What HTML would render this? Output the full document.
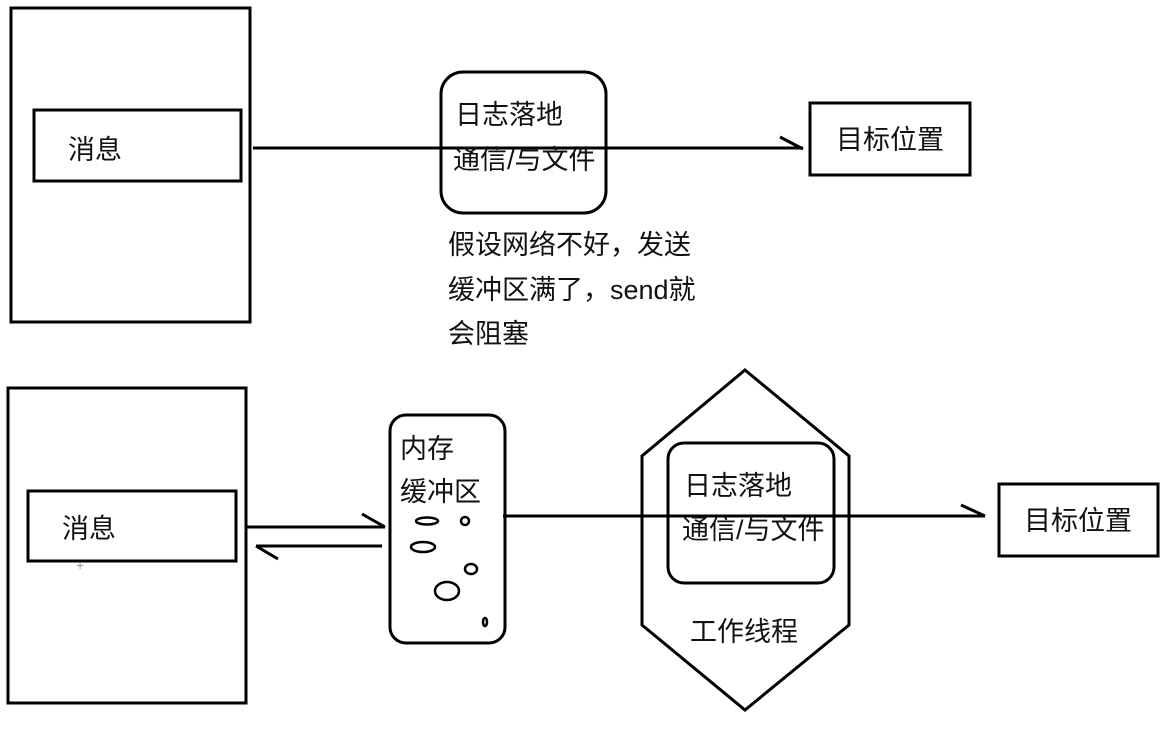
<!DOCTYPE html>
<html><head><meta charset="utf-8"><style>
html,body{margin:0;padding:0;background:#fff;}
svg{display:block}
text{font-family:"Liberation Sans","Noto Sans CJK SC",sans-serif;fill:#111;}
</style></head><body>
<svg width="1176" height="736" viewBox="0 0 1176 736" xmlns="http://www.w3.org/2000/svg">
<g fill="none" stroke="#000" stroke-width="3">
<rect x="11" y="8" width="239" height="314"/>
<rect x="34" y="110" width="207" height="71"/>
<rect x="441" y="72" width="165" height="141" rx="22"/>
<line x1="253" y1="148" x2="803" y2="148"/>
<line x1="780" y1="137" x2="803" y2="149"/>
<rect x="810" y="103" width="160" height="72"/>
<rect x="8" y="388" width="238" height="315"/>
<rect x="28" y="491" width="208" height="70"/>
<line x1="247" y1="527" x2="385" y2="527"/>
<line x1="362" y1="514" x2="385" y2="527"/>
<line x1="256" y1="546" x2="382" y2="546"/>
<line x1="256" y1="546" x2="278" y2="559"/>
<rect x="390" y="415" width="115" height="228" rx="16"/>
<line x1="503" y1="516" x2="985" y2="516"/>
<line x1="961" y1="505" x2="985" y2="516"/>
<polygon points="745,370 849,456 849,625 745,710 642,625 642,456"/>
<rect x="668" y="443" width="166" height="140" rx="16"/>
<rect x="999" y="484" width="159" height="72"/>
<g stroke-width="2.5">
<ellipse cx="427" cy="521" rx="11" ry="3.5"/>
<ellipse cx="465" cy="521" rx="4" ry="4"/>
<ellipse cx="423" cy="547" rx="12" ry="5"/>
<ellipse cx="471" cy="569" rx="6" ry="5"/>
<ellipse cx="447" cy="591" rx="12" ry="9"/>
<ellipse cx="485" cy="622" rx="2" ry="4"/>
</g>
</g>
<g font-size="27">
<text x="68" y="159">消息</text>
<text x="455" y="124">日志落地</text>
<text x="453" y="169">通信/与文件</text>
<text x="836" y="149">目标位置</text>
<text x="448" y="254">假设网络不好，发送</text>
<text x="448" y="299">缓冲区满了，send就</text>
<text x="448" y="343">会阻塞</text>
<text x="62" y="538">消息</text>
<text x="400" y="458">内存</text>
<text x="400" y="501">缓冲区</text>
<text x="684" y="495">日志落地</text>
<text x="682" y="539">通信/与文件</text>
<text x="690" y="641">工作线程</text>
<text x="1024" y="530">目标位置</text>
</g>
<text x="76" y="570" font-size="14" style="fill:#999">+</text>
</svg>
</body></html>
